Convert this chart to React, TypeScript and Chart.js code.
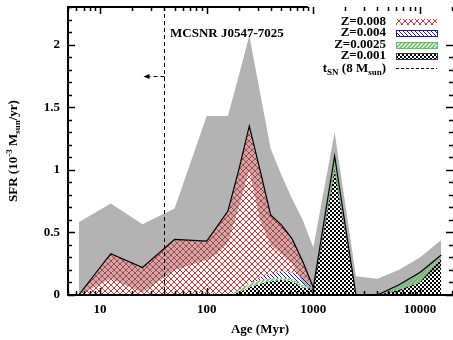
import React, { useEffect, useRef } from 'react';
import { Chart, registerables } from 'chart.js';
Chart.register(...registerables);

// Age bins (Myr)
const ages = [6.3, 12.6, 25, 50, 100, 126, 158, 200, 251, 316, 398, 501, 631, 794, 1000, 1585, 2512, 3981, 6310, 10000, 15849];
// Error band (upper / lower) of total SFR
const sfrUpper = [0.58, 0.73, 0.565, 0.69, 1.43, 1.43, 1.43, 1.75, 2.07, 1.62, 1.17, 0.96, 0.77, 0.6, 0.38, 1.3, 0.15, 0.13, 0.2, 0.3, 0.44];
const sfrLower = [0, 0.13, 0.02, 0.2, 0.28, 0.33, 0.42, 0.7, 1.0, 0.6, 0.4, 0.33, 0.25, 0.1, 0, 0.95, 0, 0, 0.02, 0.1, 0.22];
// Metallicity components
const sfrZ001 = [0, 0, 0, 0, 0, 0, 0, 0.02, 0.06, 0.09, 0.11, 0.12, 0.11, 0.06, 0.05, 1.0, 0, 0, 0.04, 0.1, 0.3];
const sfrZ0025 = [0, 0, 0, 0, 0, 0, 0, 0.02, 0.03, 0.03, 0.02, 0.02, 0.02, 0.02, 0.01, 0.11, 0, 0, 0.04, 0.08, 0.02];
const sfrZ004 = [0, 0, 0, 0, 0.02, 0.01, 0, 0, 0, 0.02, 0.04, 0.05, 0.05, 0.06, 0, 0, 0, 0, 0, 0, 0];
const sfrZ008 = [0, 0.33, 0.22, 0.445, 0.41, 0.54, 0.67, 0.96, 1.26, 0.86, 0.47, 0.37, 0.27, 0.13, 0, 0, 0, 0, 0, 0, 0];

const tSN = 40; // Myr
const arrowY = 1.75;
const yMajor = [0, 0.5, 1, 1.5, 2];
const yTickLabels = ['0', '0.5', '1', '1.5', '2'];
const xMajor = [10, 100, 1000, 10000];
const xTickLabels = ['10', '100', '1000', '10000'];
const legendLabels = ['Z=0.008', 'Z=0.004', 'Z=0.0025', 'Z=0.001'];

const FONT = '"Liberation Serif", "Times New Roman", serif';
const GREY = '#b3b3b3';
const RED = '#e03030';
const BLUE = '#1c1c9a';
const GREEN = '#5cc05c';

function makePattern(kind: string): CanvasPattern | string {
  const c = document.createElement('canvas');
  const s = kind === 'red' ? 6 : 4;
  c.width = s; c.height = s;
  const g = c.getContext('2d')!;
  if (kind === 'red') {
    g.strokeStyle = RED; g.lineWidth = 1;
    g.beginPath();
    g.moveTo(0, 0); g.lineTo(s, s);
    g.moveTo(s, 0); g.lineTo(0, s);
    g.stroke();
  } else if (kind === 'blue') {
    g.strokeStyle = BLUE; g.lineWidth = 1;
    g.beginPath();
    g.moveTo(-1, -1); g.lineTo(s + 1, s + 1);
    g.moveTo(-1, s - 1); g.lineTo(1, s + 1);
    g.moveTo(s - 1, -1); g.lineTo(s + 1, 1);
    g.stroke();
  } else if (kind === 'green') {
    g.strokeStyle = GREEN; g.lineWidth = 1.5;
    g.beginPath();
    g.moveTo(-1, s + 1); g.lineTo(s + 1, -1);
    g.moveTo(-1, 1); g.lineTo(1, -1);
    g.moveTo(s - 1, s + 1); g.lineTo(s + 1, s - 1);
    g.stroke();
  } else {
    g.fillStyle = '#000';
    g.fillRect(0, 0, 2, 2);
    g.fillRect(2, 2, 2, 2);
  }
  return g.createPattern(c, 'repeat') || '#888';
}

type Seg = { t: string; size: number; dy: number };
function richWidth(ctx: CanvasRenderingContext2D, segs: Seg[]) {
  let w = 0;
  for (const s of segs) { ctx.font = `bold ${s.size}px ${FONT}`; w += ctx.measureText(s.t).width; }
  return w;
}
function drawRich(ctx: CanvasRenderingContext2D, segs: Seg[], x: number, y: number, align: 'left' | 'center' | 'right') {
  const w = richWidth(ctx, segs);
  let cx = align === 'left' ? x : align === 'center' ? x - w / 2 : x - w;
  ctx.textAlign = 'left';
  ctx.textBaseline = 'alphabetic';
  for (const s of segs) {
    ctx.font = `bold ${s.size}px ${FONT}`;
    ctx.fillText(s.t, cx, y + s.dy);
    cx += ctx.measureText(s.t).width;
  }
}

const pts = (ys: number[]) => ages.map((a, i) => ({ x: a, y: ys[i] }));
const cumulative = (...arrs: number[][]) => ages.map((_, i) => arrs.reduce((s, a) => s + a[i], 0));

export default function App() {
  const ref = useRef<HTMLCanvasElement>(null);
  useEffect(() => {
    document.body.style.margin = '0';
    const canvas = ref.current!;
    const pats = {
      red: makePattern('red'), blue: makePattern('blue'), green: makePattern('green'), check: makePattern('check'),
    };
    const c1 = cumulative(sfrZ001);
    const c2 = cumulative(sfrZ001, sfrZ0025);
    const c3 = cumulative(sfrZ001, sfrZ0025, sfrZ004);
    const c4 = cumulative(sfrZ001, sfrZ0025, sfrZ004, sfrZ008);

    const decor = {
      id: 'decor',
      afterDraw(chart: any) {
        const ctx: CanvasRenderingContext2D = chart.ctx;
        const xs = chart.scales.x, ys = chart.scales.y;
        const { left, right, top, bottom } = chart.chartArea;
        const keyLeft = 308, keyBottom = 40;
        ctx.save();
        ctx.fillStyle = '#000';
        ctx.strokeStyle = '#000';
        // t_SN dashed line
        const xt = Math.round(xs.getPixelForValue(tSN)) + 0.5;
        ctx.lineWidth = 1;
        ctx.setLineDash([4, 3]);
        ctx.beginPath(); ctx.moveTo(xt, top); ctx.lineTo(xt, bottom); ctx.stroke();
        // arrow
        const ya = Math.round(ys.getPixelForValue(arrowY)) + 0.5;
        ctx.beginPath(); ctx.moveTo(xt, ya); ctx.lineTo(xt - 15, ya); ctx.stroke();
        ctx.setLineDash([]);
        ctx.beginPath();
        ctx.moveTo(xt - 21, ya); ctx.lineTo(xt - 15, ya - 2.5); ctx.lineTo(xt - 15, ya + 2.5); ctx.closePath(); ctx.fill();
        // annotation
        ctx.font = `bold 13px ${FONT}`;
        ctx.textAlign = 'left'; ctx.textBaseline = 'middle';
        ctx.fillText('MCSNR J0547-7025', 170, 34);
        // border (left, bottom, part of top; right edge lies at the picture edge)
        ctx.lineWidth = 2;
        ctx.beginPath();
        ctx.moveTo(keyLeft, top); ctx.lineTo(left, top); ctx.lineTo(left, bottom); ctx.lineTo(right + 2, bottom);
        ctx.stroke();
        // ticks
        ctx.lineWidth = 1.5;
        ctx.beginPath();
        for (let k = 0; k <= 23; k++) {
          const v = k / 10;
          const major = k % 5 === 0;
          const L = major ? 7 : 4;
          const py = Math.round(ys.getPixelForValue(v)) + 0.5;
          ctx.moveTo(left, py); ctx.lineTo(left + L, py);
          if (py > keyBottom) { ctx.moveTo(right + 1, py); ctx.lineTo(right + 1 - L, py); }
        }
        for (let d = 1; d <= 10000; d *= 10) {
          for (let m = 1; m <= 9; m++) {
            const v = m * d;
            if (v < 5 || v > 20000) continue;
            const L = m === 1 ? 7 : 4;
            const px = Math.round(xs.getPixelForValue(v)) + 0.5;
            ctx.moveTo(px, bottom); ctx.lineTo(px, bottom - L);
            ctx.moveTo(px, top); ctx.lineTo(px, top + L);
          }
        }
        ctx.stroke();
        // tick labels
        ctx.font = `bold 13px ${FONT}`;
        ctx.textAlign = 'right'; ctx.textBaseline = 'middle';
        yMajor.forEach((v, i) => ctx.fillText(yTickLabels[i], left - 8, ys.getPixelForValue(v)));
        ctx.textAlign = 'center';
        xMajor.forEach((v, i) => ctx.fillText(xTickLabels[i], xs.getPixelForValue(v), bottom + 15));
        // axis titles
        ctx.fillText('Age (Myr)', (left + right) / 2, 330);
        ctx.save();
        ctx.translate(13, 151);
        ctx.rotate(-Math.PI / 2);
        drawRich(ctx, [
          { t: 'SFR (10', size: 13, dy: 0 },
          { t: '-3', size: 9, dy: -5 },
          { t: ' M', size: 13, dy: 0 },
          { t: 'sun', size: 9, dy: 3 },
          { t: '/yr)', size: 13, dy: 0 },
        ], 0, 4, 'center');
        ctx.restore();
        // legend
        const rows = [21.5, 33, 44.5, 56, 68];
        const tx = 386, bx = 396, bw = 41, bh = 6;
        ctx.font = `bold 13px ${FONT}`;
        ctx.textAlign = 'right'; ctx.textBaseline = 'middle';
        legendLabels.forEach((lab, i) => ctx.fillText(lab, tx, rows[i]));
        const fills = [pats.red, pats.blue, pats.green, pats.check];
        const borders = [null, BLUE, GREEN, '#333'];
        fills.forEach((f, i) => {
          const y0 = Math.round(rows[i] - bh / 2);
          ctx.fillStyle = f as any;
          ctx.fillRect(bx, y0, bw, bh);
          if (borders[i]) {
            ctx.strokeStyle = borders[i] as string; ctx.lineWidth = 1;
            ctx.strokeRect(bx + 0.5, y0 + 0.5, bw, bh);
          }
        });
        ctx.fillStyle = '#000';
        drawRich(ctx, [
          { t: 't', size: 13, dy: 0 },
          { t: 'SN', size: 9, dy: 3 },
          { t: ' (8 M', size: 13, dy: 0 },
          { t: 'sun', size: 9, dy: 3 },
          { t: ')', size: 13, dy: 0 },
        ], tx, rows[4] + 4, 'right');
        ctx.strokeStyle = '#000'; ctx.lineWidth = 1;
        ctx.setLineDash([3, 2]);
        ctx.beginPath(); ctx.moveTo(bx, Math.round(rows[4]) + 0.5); ctx.lineTo(bx + bw, Math.round(rows[4]) + 0.5); ctx.stroke();
        ctx.restore();
      },
    };

    const common = { pointRadius: 0, tension: 0, borderWidth: 0 };
    const chart = new Chart(canvas, {
      type: 'line',
      data: {
        datasets: [
          { ...common, label: 'upper', data: pts(sfrUpper), backgroundColor: GREY, fill: '+1', order: 10 },
          { ...common, label: 'lower', data: pts(sfrLower), fill: false, order: 11 },
          { ...common, label: 'Z=0.001', data: pts(c1), backgroundColor: pats.check as any, fill: 'origin', order: 6 },
          { ...common, label: 'Z=0.0025', data: pts(c2), backgroundColor: pats.green as any, fill: '-1', order: 5 },
          { ...common, label: 'Z=0.004', data: pts(c3), backgroundColor: pats.blue as any, fill: '-1', order: 4 },
          { ...common, label: 'Z=0.008', data: pts(c4), backgroundColor: pats.red as any, fill: '-1', order: 3, borderWidth: 1.2, borderColor: '#000' },
        ],
      },
      options: {
        responsive: false,
        animation: false,
        layout: { padding: { left: 68, right: 1, top: 7, bottom: 45 } },
        plugins: { legend: { display: false }, tooltip: { enabled: false } },
        scales: {
          x: { type: 'logarithmic', min: 5, max: 20000, display: false },
          y: { type: 'linear', min: 0, max: 2.3, display: false },
        },
      },
      plugins: [decor],
    });
    return () => chart.destroy();
  }, []);
  return <canvas ref={ref} width={453} height={340} />;
}
